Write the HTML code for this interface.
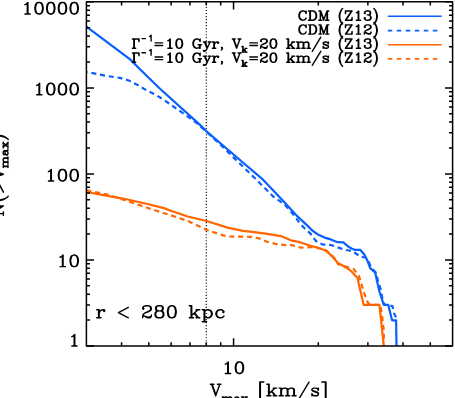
<!DOCTYPE html>
<html><head><meta charset="utf-8"><title>chart</title>
<style>html,body{margin:0;padding:0;background:#fff;font-family:"Liberation Sans",sans-serif}svg{display:block}</style>
</head><body><svg width="455" height="398" viewBox="0 0 455 398">
<rect width="455" height="398" fill="#fff"/>
<path d="M206.3 1.85V345.95" stroke="#111" stroke-width="1.2" stroke-dasharray="1.15 1.88" stroke-dashoffset="-2.02" fill="none"/>
<g fill="none" stroke-width="2.2" stroke-linejoin="round" stroke-linecap="butt">
<path d="M86.4 190.4 L106.5 194.4 L124.2 200 L146.4 207.5 L164 213.2 L170 215 L187.7 221 L206.5 229.8 L223.1 235.4 L229.7 236.5 L250 236.8 L258.4 238.2 L266.9 241.7 L275.3 243.8 L283.8 245 L292.2 245.2 L300.6 247.6 L311 247.2 L316 247.3 L325.6 250 L330.1 253.6 L334.4 258 L338.3 264.3 L341.8 265.3 L348 267.3 L353.5 269 L358.8 275.7 L361.2 283.5 L363.8 292.3 L368 302.9 L370 304.8 L379.4 304.8 L380.3 305.5 L382 315 L383.6 329 L383.9 341" stroke="#ff6600" stroke-dasharray="5.1 3.75"/>
<path d="M86.4 192 L102.1 194.9 L124.2 198.8 L146.4 203.7 L164 208.1 L172 211.2 L180 213.7 L187.7 216.5 L206.5 221 L227.5 227.6 L243 230.9 L250 231.6 L265.5 233.7 L280.9 236.1 L290.8 240.3 L300 242.2 L307.4 244.7 L316 247.2 L325.2 250.2 L329.5 253.9 L333.8 258.2 L338.2 263.2 L341.8 265 L348 268.7 L352 272 L357.7 278.2 L358.5 282.7 L361.4 295 L363.6 304.8 L379.4 304.8 L383.8 345.95" stroke="#ff6600"/>
<path d="M86.4 72 L106.5 75.9 L120 77.9 L128.8 80.5 L137.6 84.9 L146.4 90.2 L155.2 94.6 L164 99.9 L172.7 106 L181.5 112.2 L190.3 118.4 L197.4 123.6 L206.5 131.8 L220 144.3 L240 163.7 L255.5 178.8 L273.2 196.5 L284.2 204.2 L293 214 L299.7 223 L303.7 227.5 L310.5 233.6 L313.5 237.9 L316 241 L318.5 242.8 L323.4 244.7 L327 244.4 L332 245.3 L335.7 246.5 L340.6 248.4 L343.7 249.6 L349.2 250.5 L352.9 251.2 L356.6 254 L360.8 256.9 L365.5 257.5 L368.5 261.5 L371.2 267.5 L376 272.8 L378 281 L380.9 290.2 L382.2 297.6 L384.2 304.8 L388.2 304.8 L392.6 306.4 L394.4 314.3 L395.8 317 L396.4 321.5" stroke="#0a60ff" stroke-dasharray="5.1 3.75" stroke-dashoffset="3.85"/>
<path d="M86.4 26.6 L129.8 59.1 L140.2 69.5 L160 88.8 L200 124.9 L206.5 131.3 L240 160 L262.1 178.8 L284.2 202 L297.5 216.4 L307.4 225.6 L312.3 230.5 L318.5 234.8 L324.6 237.6 L330.8 239.4 L337.5 242.2 L343.4 242.3 L348.6 246.8 L352 248.8 L355.1 249.9 L360.2 249.8 L364.6 255 L367.7 261.3 L370.2 268.2 L375.2 272.6 L377.1 281.4 L379.4 291.5 L383.8 304.8 L388.2 304.8 L392.1 320.3 L396.1 320.3 L396.5 345.95" stroke="#0a60ff"/>
</g>
<g fill="none" stroke-width="1.6" stroke-linecap="butt">
<path d="M387.8 16.3H441.7" stroke="#0a60ff"/>
<path d="M387.8 30.6H441.7" stroke="#0a60ff" stroke-dasharray="4.5 4.5"/>
<path d="M387.8 44.7H441.7" stroke="#ff6600"/>
<path d="M387.8 58.9H441.7" stroke="#ff6600" stroke-dasharray="4.5 4.5"/>
</g>
<g fill="none" stroke="#000" stroke-width="1.5" stroke-linejoin="round" stroke-linecap="butt">
<path d="M121.57 345.95V342.35 M121.57 1.85V5.45 M148.84 345.95V342.35 M148.84 1.85V5.45 M171.13 345.95V342.35 M171.13 1.85V5.45 M189.97 345.95V342.35 M189.97 1.85V5.45 M206.3 345.95V342.35 M206.3 1.85V5.45 M220.69 345.95V342.35 M220.69 1.85V5.45 M233.57 345.95V338.35 M233.57 1.85V9.45 M318.31 345.95V342.35 M318.31 1.85V5.45 M367.87 345.95V342.35 M367.87 1.85V5.45 M403.04 345.95V342.35 M403.04 1.85V5.45 M430.31 345.95V342.35 M430.31 1.85V5.45 M86.4 345.95H94 M452.6 345.95H445 M86.4 320.05H90 M452.6 320.05H449 M86.4 304.91H90 M452.6 304.91H449 M86.4 294.16H90 M452.6 294.16H449 M86.4 285.82H90 M452.6 285.82H449 M86.4 279.01H90 M452.6 279.01H449 M86.4 273.25H90 M452.6 273.25H449 M86.4 268.26H90 M452.6 268.26H449 M86.4 263.86H90 M452.6 263.86H449 M86.4 259.93H94 M452.6 259.93H445 M86.4 234.03H90 M452.6 234.03H449 M86.4 218.88H90 M452.6 218.88H449 M86.4 208.13H90 M452.6 208.13H449 M86.4 199.8H90 M452.6 199.8H449 M86.4 192.98H90 M452.6 192.98H449 M86.4 187.23H90 M452.6 187.23H449 M86.4 182.24H90 M452.6 182.24H449 M86.4 177.84H90 M452.6 177.84H449 M86.4 173.9H94 M452.6 173.9H445 M86.4 148H90 M452.6 148H449 M86.4 132.86H90 M452.6 132.86H449 M86.4 122.11H90 M452.6 122.11H449 M86.4 113.77H90 M452.6 113.77H449 M86.4 106.96H90 M452.6 106.96H449 M86.4 101.2H90 M452.6 101.2H449 M86.4 96.21H90 M452.6 96.21H449 M86.4 91.81H90 M452.6 91.81H449 M86.4 87.88H94 M452.6 87.88H445 M86.4 61.98H90 M452.6 61.98H449 M86.4 46.83H90 M452.6 46.83H449 M86.4 36.08H90 M452.6 36.08H449 M86.4 27.75H90 M452.6 27.75H449 M86.4 20.93H90 M452.6 20.93H449 M86.4 15.18H90 M452.6 15.18H449 M86.4 10.19H90 M452.6 10.19H449 M86.4 5.79H90 M452.6 5.79H449 M86.4 1.85H94 M452.6 1.85H445"/>
<path d="M86.4 1.85H452.6V345.95H86.4Z"/>
</g>
<g fill="none" stroke="#000" stroke-linejoin="round" stroke-linecap="round">
<path d="M305.63 12.28 L306.1 13.6 L306.1 10.96 L305.63 12.28 L304.68 11.4 L303.26 10.96 L302.31 10.96 L300.89 11.4 L299.94 12.28 L299.46 13.16 L298.99 14.48 L298.99 16.68 L299.46 18 L299.94 18.88 L300.89 19.76 L302.31 20.2 L303.26 20.2 L304.68 19.76 L305.63 18.88 L306.1 18 M302.31 10.96 L301.36 11.4 L300.41 12.28 L299.94 13.16 L299.46 14.48 L299.46 16.68 L299.94 18 L300.41 18.88 L301.36 19.76 L302.31 20.2 M309.89 10.96 L309.89 20.2 M310.37 10.96 L310.37 20.2 M308.47 10.96 L313.21 10.96 L314.63 11.4 L315.58 12.28 L316.05 13.16 L316.53 14.48 L316.53 16.68 L316.05 18 L315.58 18.88 L314.63 19.76 L313.21 20.2 L308.47 20.2 M313.21 10.96 L314.16 11.4 L315.11 12.28 L315.58 13.16 L316.05 14.48 L316.05 16.68 L315.58 18 L315.11 18.88 L314.16 19.76 L313.21 20.2 M320.32 10.96 L320.32 20.2 M320.79 10.96 L323.64 18.88 M320.32 10.96 L323.64 20.2 M326.96 10.96 L323.64 20.2 M326.96 10.96 L326.96 20.2 M327.43 10.96 L327.43 20.2 M318.9 10.96 L320.79 10.96 M326.96 10.96 L328.85 10.96 M318.9 20.2 L321.74 20.2 M325.53 20.2 L328.85 20.2 M342.6 8.58 L341.65 9.55 L340.7 11 L339.75 12.94 L339.28 15.36 L339.28 17.3 L339.75 19.72 L340.7 21.65 L341.65 23.1 L342.6 24.07 M341.65 9.55 L340.7 11.49 L340.23 12.94 L339.75 15.36 L339.75 17.3 L340.23 19.72 L340.7 21.17 L341.65 23.1 M351.6 10.96 L345.44 20.2 M352.08 10.96 L345.92 20.2 M345.92 10.96 L345.44 13.6 L345.44 10.96 L352.08 10.96 M345.44 20.2 L352.08 20.2 L352.08 17.56 L351.6 20.2 M356.34 12.72 L357.29 12.28 L358.71 10.96 L358.71 20.2 M358.24 11.4 L358.24 20.2 M356.34 20.2 L360.61 20.2 M364.88 12.72 L365.35 13.16 L364.88 13.6 L364.4 13.16 L364.4 12.72 L364.88 11.84 L365.35 11.4 L366.77 10.96 L368.67 10.96 L370.09 11.4 L370.56 12.28 L370.56 13.6 L370.09 14.48 L368.67 14.92 L367.25 14.92 M368.67 10.96 L369.62 11.4 L370.09 12.28 L370.09 13.6 L369.62 14.48 L368.67 14.92 M368.67 14.92 L369.62 15.36 L370.56 16.24 L371.04 17.12 L371.04 18.44 L370.56 19.32 L370.09 19.76 L368.67 20.2 L366.77 20.2 L365.35 19.76 L364.88 19.32 L364.4 18.44 L364.4 18 L364.88 17.56 L365.35 18 L364.88 18.44 M370.09 15.8 L370.56 17.12 L370.56 18.44 L370.09 19.32 L369.62 19.76 L368.67 20.2 M373.88 8.58 L374.83 9.55 L375.78 11 L376.73 12.94 L377.2 15.36 L377.2 17.3 L376.73 19.72 L375.78 21.65 L374.83 23.1 L373.88 24.07 M374.83 9.55 L375.78 11.49 L376.25 12.94 L376.73 15.36 L376.73 17.3 L376.25 19.72 L375.78 21.17 L374.83 23.1 M305.63 26.18 L306.1 27.5 L306.1 24.86 L305.63 26.18 L304.68 25.3 L303.26 24.86 L302.31 24.86 L300.89 25.3 L299.94 26.18 L299.46 27.06 L298.99 28.38 L298.99 30.58 L299.46 31.9 L299.94 32.78 L300.89 33.66 L302.31 34.1 L303.26 34.1 L304.68 33.66 L305.63 32.78 L306.1 31.9 M302.31 24.86 L301.36 25.3 L300.41 26.18 L299.94 27.06 L299.46 28.38 L299.46 30.58 L299.94 31.9 L300.41 32.78 L301.36 33.66 L302.31 34.1 M309.89 24.86 L309.89 34.1 M310.37 24.86 L310.37 34.1 M308.47 24.86 L313.21 24.86 L314.63 25.3 L315.58 26.18 L316.05 27.06 L316.53 28.38 L316.53 30.58 L316.05 31.9 L315.58 32.78 L314.63 33.66 L313.21 34.1 L308.47 34.1 M313.21 24.86 L314.16 25.3 L315.11 26.18 L315.58 27.06 L316.05 28.38 L316.05 30.58 L315.58 31.9 L315.11 32.78 L314.16 33.66 L313.21 34.1 M320.32 24.86 L320.32 34.1 M320.79 24.86 L323.64 32.78 M320.32 24.86 L323.64 34.1 M326.96 24.86 L323.64 34.1 M326.96 24.86 L326.96 34.1 M327.43 24.86 L327.43 34.1 M318.9 24.86 L320.79 24.86 M326.96 24.86 L328.85 24.86 M318.9 34.1 L321.74 34.1 M325.53 34.1 L328.85 34.1 M342.6 22.48 L341.65 23.45 L340.7 24.9 L339.75 26.84 L339.28 29.26 L339.28 31.2 L339.75 33.62 L340.7 35.55 L341.65 37 L342.6 37.97 M341.65 23.45 L340.7 25.39 L340.23 26.84 L339.75 29.26 L339.75 31.2 L340.23 33.62 L340.7 35.07 L341.65 37 M351.6 24.86 L345.44 34.1 M352.08 24.86 L345.92 34.1 M345.92 24.86 L345.44 27.5 L345.44 24.86 L352.08 24.86 M345.44 34.1 L352.08 34.1 L352.08 31.46 L351.6 34.1 M356.34 26.62 L357.29 26.18 L358.71 24.86 L358.71 34.1 M358.24 25.3 L358.24 34.1 M356.34 34.1 L360.61 34.1 M364.88 26.62 L365.35 27.06 L364.88 27.5 L364.4 27.06 L364.4 26.62 L364.88 25.74 L365.35 25.3 L366.77 24.86 L368.67 24.86 L370.09 25.3 L370.56 25.74 L371.04 26.62 L371.04 27.5 L370.56 28.38 L369.14 29.26 L366.77 30.14 L365.82 30.58 L364.88 31.46 L364.4 32.78 L364.4 34.1 M368.67 24.86 L369.62 25.3 L370.09 25.74 L370.56 26.62 L370.56 27.5 L370.09 28.38 L368.67 29.26 L366.77 30.14 M364.4 33.22 L364.88 32.78 L365.82 32.78 L368.19 33.66 L369.62 33.66 L370.56 33.22 L371.04 32.78 M365.82 32.78 L368.19 34.1 L370.09 34.1 L370.56 33.66 L371.04 32.78 L371.04 31.9 M373.88 22.48 L374.83 23.45 L375.78 24.9 L376.73 26.84 L377.2 29.26 L377.2 31.2 L376.73 33.62 L375.78 35.55 L374.83 37 L373.88 37.97 M374.83 23.45 L375.78 25.39 L376.25 26.84 L376.73 29.26 L376.73 31.2 L376.25 33.62 L375.78 35.07 L374.83 37 M133.84 38.96 L133.84 48.2 M134.31 38.96 L134.31 48.2 M132.42 38.96 L139.05 38.96 L139.05 41.6 L138.58 38.96 M132.42 48.2 L135.73 48.2 M141.99 38.62 L145.52 38.62 M149.63 36.43 L150.22 36.16 L151.1 35.34 L151.1 41.07 M155.07 42.92 L162.66 42.92 M155.07 45.56 L162.66 45.56 M167.87 40.72 L168.82 40.28 L170.24 38.96 L170.24 48.2 M169.77 39.4 L169.77 48.2 M167.87 48.2 L172.14 48.2 M178.77 38.96 L177.35 39.4 L176.4 40.72 L175.93 42.92 L175.93 44.24 L176.4 46.44 L177.35 47.76 L178.77 48.2 L179.72 48.2 L181.14 47.76 L182.09 46.44 L182.57 44.24 L182.57 42.92 L182.09 40.72 L181.14 39.4 L179.72 38.96 L178.77 38.96 M178.77 38.96 L177.83 39.4 L177.35 39.84 L176.88 40.72 L176.4 42.92 L176.4 44.24 L176.88 46.44 L177.35 47.32 L177.83 47.76 L178.77 48.2 M179.72 48.2 L180.67 47.76 L181.14 47.32 L181.62 46.44 L182.09 44.24 L182.09 42.92 L181.62 40.72 L181.14 39.84 L180.67 39.4 L179.72 38.96 M199.63 40.28 L200.1 41.6 L200.1 38.96 L199.63 40.28 L198.68 39.4 L197.26 38.96 L196.31 38.96 L194.89 39.4 L193.94 40.28 L193.47 41.16 L192.99 42.48 L192.99 44.68 L193.47 46 L193.94 46.88 L194.89 47.76 L196.31 48.2 L197.26 48.2 L198.68 47.76 L199.63 46.88 M196.31 38.96 L195.36 39.4 L194.42 40.28 L193.94 41.16 L193.47 42.48 L193.47 44.68 L193.94 46 L194.42 46.88 L195.36 47.76 L196.31 48.2 M199.63 44.68 L199.63 48.2 M200.1 44.68 L200.1 48.2 M198.21 44.68 L201.53 44.68 M204.37 42.04 L207.21 48.2 M204.84 42.04 L207.21 47.32 M210.06 42.04 L207.21 48.2 L206.27 49.96 L205.32 50.84 L204.37 51.28 L203.9 51.28 L203.42 50.84 L203.9 50.4 L204.37 50.84 M203.42 42.04 L206.27 42.04 M208.16 42.04 L211.01 42.04 M213.85 42.04 L213.85 48.2 M214.32 42.04 L214.32 48.2 M214.32 44.68 L214.8 43.36 L215.75 42.48 L216.69 42.04 L218.12 42.04 L218.59 42.48 L218.59 42.92 L218.12 43.36 L217.64 42.92 L218.12 42.48 M212.43 42.04 L214.32 42.04 M212.43 48.2 L215.75 48.2 M221.91 48.2 L221.43 47.76 L221.91 47.32 L222.38 47.76 L222.38 48.64 L221.91 49.52 L221.43 49.96 M233.28 38.96 L236.6 48.2 M233.76 38.96 L236.6 46.88 M239.92 38.96 L236.6 48.2 M232.34 38.96 L235.18 38.96 M238.02 38.96 L240.87 38.96 M242.81 46.43 L242.81 52.16 M243.11 46.43 L243.11 52.16 M246.04 48.34 L243.11 51.07 M244.57 49.98 L246.34 52.16 M244.28 49.98 L246.04 52.16 M241.93 46.43 L243.11 46.43 M245.16 48.34 L246.93 48.34 M241.93 52.16 L243.99 52.16 M245.16 52.16 L246.93 52.16 M249.88 42.92 L257.47 42.92 M249.88 45.56 L257.47 45.56 M261.07 40.72 L261.54 41.16 L261.07 41.6 L260.6 41.16 L260.6 40.72 L261.07 39.84 L261.54 39.4 L262.97 38.96 L264.86 38.96 L266.28 39.4 L266.76 39.84 L267.23 40.72 L267.23 41.6 L266.76 42.48 L265.34 43.36 L262.97 44.24 L262.02 44.68 L261.07 45.56 L260.6 46.88 L260.6 48.2 M264.86 38.96 L265.81 39.4 L266.28 39.84 L266.76 40.72 L266.76 41.6 L266.28 42.48 L264.86 43.36 L262.97 44.24 M260.6 47.32 L261.07 46.88 L262.02 46.88 L264.39 47.76 L265.81 47.76 L266.76 47.32 L267.23 46.88 M262.02 46.88 L264.39 48.2 L266.28 48.2 L266.76 47.76 L267.23 46.88 L267.23 46 M272.92 38.96 L271.5 39.4 L270.55 40.72 L270.08 42.92 L270.08 44.24 L270.55 46.44 L271.5 47.76 L272.92 48.2 L273.87 48.2 L275.29 47.76 L276.24 46.44 L276.71 44.24 L276.71 42.92 L276.24 40.72 L275.29 39.4 L273.87 38.96 L272.92 38.96 M272.92 38.96 L271.97 39.4 L271.5 39.84 L271.02 40.72 L270.55 42.92 L270.55 44.24 L271.02 46.44 L271.5 47.32 L271.97 47.76 L272.92 48.2 M273.87 48.2 L274.82 47.76 L275.29 47.32 L275.76 46.44 L276.24 44.24 L276.24 42.92 L275.76 40.72 L275.29 39.84 L274.82 39.4 L273.87 38.96 M288.09 38.96 L288.09 48.2 M288.56 38.96 L288.56 48.2 M293.3 42.04 L288.56 46.44 M290.93 44.68 L293.78 48.2 M290.46 44.68 L293.3 48.2 M286.67 38.96 L288.56 38.96 M291.88 42.04 L294.72 42.04 M286.67 48.2 L289.98 48.2 M291.88 48.2 L294.72 48.2 M298.04 42.04 L298.04 48.2 M298.52 42.04 L298.52 48.2 M298.52 43.36 L299.46 42.48 L300.89 42.04 L301.83 42.04 L303.26 42.48 L303.73 43.36 L303.73 48.2 M301.83 42.04 L302.78 42.48 L303.26 43.36 L303.26 48.2 M303.73 43.36 L304.68 42.48 L306.1 42.04 L307.05 42.04 L308.47 42.48 L308.94 43.36 L308.94 48.2 M307.05 42.04 L308 42.48 L308.47 43.36 L308.47 48.2 M296.62 42.04 L298.52 42.04 M296.62 48.2 L299.94 48.2 M301.83 48.2 L305.15 48.2 M307.05 48.2 L310.37 48.2 M320.79 37.2 L312.26 51.28 M327.9 42.92 L328.38 42.04 L328.38 43.8 L327.9 42.92 L327.43 42.48 L326.48 42.04 L324.59 42.04 L323.64 42.48 L323.16 42.92 L323.16 43.8 L323.64 44.24 L324.59 44.68 L326.96 45.56 L327.9 46 L328.38 46.44 M323.16 43.36 L323.64 43.8 L324.59 44.24 L326.96 45.12 L327.9 45.56 L328.38 46 L328.38 47.32 L327.9 47.76 L326.96 48.2 L325.06 48.2 L324.11 47.76 L323.64 47.32 L323.16 46.44 L323.16 48.2 L323.64 47.32 M342.6 36.58 L341.65 37.55 L340.7 39 L339.75 40.94 L339.28 43.36 L339.28 45.3 L339.75 47.72 L340.7 49.65 L341.65 51.1 L342.6 52.07 M341.65 37.55 L340.7 39.49 L340.23 40.94 L339.75 43.36 L339.75 45.3 L340.23 47.72 L340.7 49.17 L341.65 51.1 M351.6 38.96 L345.44 48.2 M352.08 38.96 L345.92 48.2 M345.92 38.96 L345.44 41.6 L345.44 38.96 L352.08 38.96 M345.44 48.2 L352.08 48.2 L352.08 45.56 L351.6 48.2 M356.34 40.72 L357.29 40.28 L358.71 38.96 L358.71 48.2 M358.24 39.4 L358.24 48.2 M356.34 48.2 L360.61 48.2 M364.88 40.72 L365.35 41.16 L364.88 41.6 L364.4 41.16 L364.4 40.72 L364.88 39.84 L365.35 39.4 L366.77 38.96 L368.67 38.96 L370.09 39.4 L370.56 40.28 L370.56 41.6 L370.09 42.48 L368.67 42.92 L367.25 42.92 M368.67 38.96 L369.62 39.4 L370.09 40.28 L370.09 41.6 L369.62 42.48 L368.67 42.92 M368.67 42.92 L369.62 43.36 L370.56 44.24 L371.04 45.12 L371.04 46.44 L370.56 47.32 L370.09 47.76 L368.67 48.2 L366.77 48.2 L365.35 47.76 L364.88 47.32 L364.4 46.44 L364.4 46 L364.88 45.56 L365.35 46 L364.88 46.44 M370.09 43.8 L370.56 45.12 L370.56 46.44 L370.09 47.32 L369.62 47.76 L368.67 48.2 M373.88 36.58 L374.83 37.55 L375.78 39 L376.73 40.94 L377.2 43.36 L377.2 45.3 L376.73 47.72 L375.78 49.65 L374.83 51.1 L373.88 52.07 M374.83 37.55 L375.78 39.49 L376.25 40.94 L376.73 43.36 L376.73 45.3 L376.25 47.72 L375.78 49.17 L374.83 51.1 M133.84 53.06 L133.84 62.3 M134.31 53.06 L134.31 62.3 M132.42 53.06 L139.05 53.06 L139.05 55.7 L138.58 53.06 M132.42 62.3 L135.73 62.3 M141.99 52.72 L145.52 52.72 M149.63 50.53 L150.22 50.26 L151.1 49.44 L151.1 55.17 M155.07 57.02 L162.66 57.02 M155.07 59.66 L162.66 59.66 M167.87 54.82 L168.82 54.38 L170.24 53.06 L170.24 62.3 M169.77 53.5 L169.77 62.3 M167.87 62.3 L172.14 62.3 M178.77 53.06 L177.35 53.5 L176.4 54.82 L175.93 57.02 L175.93 58.34 L176.4 60.54 L177.35 61.86 L178.77 62.3 L179.72 62.3 L181.14 61.86 L182.09 60.54 L182.57 58.34 L182.57 57.02 L182.09 54.82 L181.14 53.5 L179.72 53.06 L178.77 53.06 M178.77 53.06 L177.83 53.5 L177.35 53.94 L176.88 54.82 L176.4 57.02 L176.4 58.34 L176.88 60.54 L177.35 61.42 L177.83 61.86 L178.77 62.3 M179.72 62.3 L180.67 61.86 L181.14 61.42 L181.62 60.54 L182.09 58.34 L182.09 57.02 L181.62 54.82 L181.14 53.94 L180.67 53.5 L179.72 53.06 M199.63 54.38 L200.1 55.7 L200.1 53.06 L199.63 54.38 L198.68 53.5 L197.26 53.06 L196.31 53.06 L194.89 53.5 L193.94 54.38 L193.47 55.26 L192.99 56.58 L192.99 58.78 L193.47 60.1 L193.94 60.98 L194.89 61.86 L196.31 62.3 L197.26 62.3 L198.68 61.86 L199.63 60.98 M196.31 53.06 L195.36 53.5 L194.42 54.38 L193.94 55.26 L193.47 56.58 L193.47 58.78 L193.94 60.1 L194.42 60.98 L195.36 61.86 L196.31 62.3 M199.63 58.78 L199.63 62.3 M200.1 58.78 L200.1 62.3 M198.21 58.78 L201.53 58.78 M204.37 56.14 L207.21 62.3 M204.84 56.14 L207.21 61.42 M210.06 56.14 L207.21 62.3 L206.27 64.06 L205.32 64.94 L204.37 65.38 L203.9 65.38 L203.42 64.94 L203.9 64.5 L204.37 64.94 M203.42 56.14 L206.27 56.14 M208.16 56.14 L211.01 56.14 M213.85 56.14 L213.85 62.3 M214.32 56.14 L214.32 62.3 M214.32 58.78 L214.8 57.46 L215.75 56.58 L216.69 56.14 L218.12 56.14 L218.59 56.58 L218.59 57.02 L218.12 57.46 L217.64 57.02 L218.12 56.58 M212.43 56.14 L214.32 56.14 M212.43 62.3 L215.75 62.3 M221.91 62.3 L221.43 61.86 L221.91 61.42 L222.38 61.86 L222.38 62.74 L221.91 63.62 L221.43 64.06 M233.28 53.06 L236.6 62.3 M233.76 53.06 L236.6 60.98 M239.92 53.06 L236.6 62.3 M232.34 53.06 L235.18 53.06 M238.02 53.06 L240.87 53.06 M242.81 60.53 L242.81 66.26 M243.11 60.53 L243.11 66.26 M246.04 62.44 L243.11 65.17 M244.57 64.08 L246.34 66.26 M244.28 64.08 L246.04 66.26 M241.93 60.53 L243.11 60.53 M245.16 62.44 L246.93 62.44 M241.93 66.26 L243.99 66.26 M245.16 66.26 L246.93 66.26 M249.88 57.02 L257.47 57.02 M249.88 59.66 L257.47 59.66 M261.07 54.82 L261.54 55.26 L261.07 55.7 L260.6 55.26 L260.6 54.82 L261.07 53.94 L261.54 53.5 L262.97 53.06 L264.86 53.06 L266.28 53.5 L266.76 53.94 L267.23 54.82 L267.23 55.7 L266.76 56.58 L265.34 57.46 L262.97 58.34 L262.02 58.78 L261.07 59.66 L260.6 60.98 L260.6 62.3 M264.86 53.06 L265.81 53.5 L266.28 53.94 L266.76 54.82 L266.76 55.7 L266.28 56.58 L264.86 57.46 L262.97 58.34 M260.6 61.42 L261.07 60.98 L262.02 60.98 L264.39 61.86 L265.81 61.86 L266.76 61.42 L267.23 60.98 M262.02 60.98 L264.39 62.3 L266.28 62.3 L266.76 61.86 L267.23 60.98 L267.23 60.1 M272.92 53.06 L271.5 53.5 L270.55 54.82 L270.08 57.02 L270.08 58.34 L270.55 60.54 L271.5 61.86 L272.92 62.3 L273.87 62.3 L275.29 61.86 L276.24 60.54 L276.71 58.34 L276.71 57.02 L276.24 54.82 L275.29 53.5 L273.87 53.06 L272.92 53.06 M272.92 53.06 L271.97 53.5 L271.5 53.94 L271.02 54.82 L270.55 57.02 L270.55 58.34 L271.02 60.54 L271.5 61.42 L271.97 61.86 L272.92 62.3 M273.87 62.3 L274.82 61.86 L275.29 61.42 L275.76 60.54 L276.24 58.34 L276.24 57.02 L275.76 54.82 L275.29 53.94 L274.82 53.5 L273.87 53.06 M288.09 53.06 L288.09 62.3 M288.56 53.06 L288.56 62.3 M293.3 56.14 L288.56 60.54 M290.93 58.78 L293.78 62.3 M290.46 58.78 L293.3 62.3 M286.67 53.06 L288.56 53.06 M291.88 56.14 L294.72 56.14 M286.67 62.3 L289.98 62.3 M291.88 62.3 L294.72 62.3 M298.04 56.14 L298.04 62.3 M298.52 56.14 L298.52 62.3 M298.52 57.46 L299.46 56.58 L300.89 56.14 L301.83 56.14 L303.26 56.58 L303.73 57.46 L303.73 62.3 M301.83 56.14 L302.78 56.58 L303.26 57.46 L303.26 62.3 M303.73 57.46 L304.68 56.58 L306.1 56.14 L307.05 56.14 L308.47 56.58 L308.94 57.46 L308.94 62.3 M307.05 56.14 L308 56.58 L308.47 57.46 L308.47 62.3 M296.62 56.14 L298.52 56.14 M296.62 62.3 L299.94 62.3 M301.83 62.3 L305.15 62.3 M307.05 62.3 L310.37 62.3 M320.79 51.3 L312.26 65.38 M327.9 57.02 L328.38 56.14 L328.38 57.9 L327.9 57.02 L327.43 56.58 L326.48 56.14 L324.59 56.14 L323.64 56.58 L323.16 57.02 L323.16 57.9 L323.64 58.34 L324.59 58.78 L326.96 59.66 L327.9 60.1 L328.38 60.54 M323.16 57.46 L323.64 57.9 L324.59 58.34 L326.96 59.22 L327.9 59.66 L328.38 60.1 L328.38 61.42 L327.9 61.86 L326.96 62.3 L325.06 62.3 L324.11 61.86 L323.64 61.42 L323.16 60.54 L323.16 62.3 L323.64 61.42 M342.6 50.68 L341.65 51.65 L340.7 53.1 L339.75 55.04 L339.28 57.46 L339.28 59.4 L339.75 61.82 L340.7 63.75 L341.65 65.2 L342.6 66.17 M341.65 51.65 L340.7 53.59 L340.23 55.04 L339.75 57.46 L339.75 59.4 L340.23 61.82 L340.7 63.27 L341.65 65.2 M351.6 53.06 L345.44 62.3 M352.08 53.06 L345.92 62.3 M345.92 53.06 L345.44 55.7 L345.44 53.06 L352.08 53.06 M345.44 62.3 L352.08 62.3 L352.08 59.66 L351.6 62.3 M356.34 54.82 L357.29 54.38 L358.71 53.06 L358.71 62.3 M358.24 53.5 L358.24 62.3 M356.34 62.3 L360.61 62.3 M364.88 54.82 L365.35 55.26 L364.88 55.7 L364.4 55.26 L364.4 54.82 L364.88 53.94 L365.35 53.5 L366.77 53.06 L368.67 53.06 L370.09 53.5 L370.56 53.94 L371.04 54.82 L371.04 55.7 L370.56 56.58 L369.14 57.46 L366.77 58.34 L365.82 58.78 L364.88 59.66 L364.4 60.98 L364.4 62.3 M368.67 53.06 L369.62 53.5 L370.09 53.94 L370.56 54.82 L370.56 55.7 L370.09 56.58 L368.67 57.46 L366.77 58.34 M364.4 61.42 L364.88 60.98 L365.82 60.98 L368.19 61.86 L369.62 61.86 L370.56 61.42 L371.04 60.98 M365.82 60.98 L368.19 62.3 L370.09 62.3 L370.56 61.86 L371.04 60.98 L371.04 60.1 M373.88 50.68 L374.83 51.65 L375.78 53.1 L376.73 55.04 L377.2 57.46 L377.2 59.4 L376.73 61.82 L375.78 63.75 L374.83 65.2 L373.88 66.17 M374.83 51.65 L375.78 53.59 L376.25 55.04 L376.73 57.46 L376.73 59.4 L376.25 61.82 L375.78 63.27 L374.83 65.2" stroke-width="1.4"/>
<path d="M24.97 4.65 L26.15 4.1 L27.9 2.45 L27.9 14 M27.32 3 L27.32 14 M24.97 14 L30.25 14 M38.45 2.45 L36.69 3 L35.52 4.65 L34.94 7.4 L34.94 9.05 L35.52 11.8 L36.69 13.45 L38.45 14 L39.62 14 L41.38 13.45 L42.55 11.8 L43.14 9.05 L43.14 7.4 L42.55 4.65 L41.38 3 L39.62 2.45 L38.45 2.45 M38.45 2.45 L37.28 3 L36.69 3.55 L36.11 4.65 L35.52 7.4 L35.52 9.05 L36.11 11.8 L36.69 12.9 L37.28 13.45 L38.45 14 M39.62 14 L40.8 13.45 L41.38 12.9 L41.97 11.8 L42.55 9.05 L42.55 7.4 L41.97 4.65 L41.38 3.55 L40.8 3 L39.62 2.45 M50.17 2.45 L48.41 3 L47.24 4.65 L46.66 7.4 L46.66 9.05 L47.24 11.8 L48.41 13.45 L50.17 14 L51.34 14 L53.1 13.45 L54.27 11.8 L54.86 9.05 L54.86 7.4 L54.27 4.65 L53.1 3 L51.34 2.45 L50.17 2.45 M50.17 2.45 L49 3 L48.41 3.55 L47.83 4.65 L47.24 7.4 L47.24 9.05 L47.83 11.8 L48.41 12.9 L49 13.45 L50.17 14 M51.34 14 L52.52 13.45 L53.1 12.9 L53.69 11.8 L54.27 9.05 L54.27 7.4 L53.69 4.65 L53.1 3.55 L52.52 3 L51.34 2.45 M61.89 2.45 L60.13 3 L58.96 4.65 L58.38 7.4 L58.38 9.05 L58.96 11.8 L60.13 13.45 L61.89 14 L63.06 14 L64.82 13.45 L65.99 11.8 L66.58 9.05 L66.58 7.4 L65.99 4.65 L64.82 3 L63.06 2.45 L61.89 2.45 M61.89 2.45 L60.72 3 L60.13 3.55 L59.55 4.65 L58.96 7.4 L58.96 9.05 L59.55 11.8 L60.13 12.9 L60.72 13.45 L61.89 14 M63.06 14 L64.24 13.45 L64.82 12.9 L65.41 11.8 L65.99 9.05 L65.99 7.4 L65.41 4.65 L64.82 3.55 L64.24 3 L63.06 2.45 M73.61 2.45 L71.85 3 L70.68 4.65 L70.1 7.4 L70.1 9.05 L70.68 11.8 L71.85 13.45 L73.61 14 L74.78 14 L76.54 13.45 L77.71 11.8 L78.3 9.05 L78.3 7.4 L77.71 4.65 L76.54 3 L74.78 2.45 L73.61 2.45 M73.61 2.45 L72.44 3 L71.85 3.55 L71.27 4.65 L70.68 7.4 L70.68 9.05 L71.27 11.8 L71.85 12.9 L72.44 13.45 L73.61 14 M74.78 14 L75.96 13.45 L76.54 12.9 L77.13 11.8 L77.71 9.05 L77.71 7.4 L77.13 4.65 L76.54 3.55 L75.96 3 L74.78 2.45 M36.69 85.45 L37.87 84.9 L39.62 83.25 L39.62 94.8 M39.04 83.8 L39.04 94.8 M36.69 94.8 L41.97 94.8 M50.17 83.25 L48.41 83.8 L47.24 85.45 L46.66 88.2 L46.66 89.85 L47.24 92.6 L48.41 94.25 L50.17 94.8 L51.34 94.8 L53.1 94.25 L54.27 92.6 L54.86 89.85 L54.86 88.2 L54.27 85.45 L53.1 83.8 L51.34 83.25 L50.17 83.25 M50.17 83.25 L49 83.8 L48.41 84.35 L47.83 85.45 L47.24 88.2 L47.24 89.85 L47.83 92.6 L48.41 93.7 L49 94.25 L50.17 94.8 M51.34 94.8 L52.52 94.25 L53.1 93.7 L53.69 92.6 L54.27 89.85 L54.27 88.2 L53.69 85.45 L53.1 84.35 L52.52 83.8 L51.34 83.25 M61.89 83.25 L60.13 83.8 L58.96 85.45 L58.38 88.2 L58.38 89.85 L58.96 92.6 L60.13 94.25 L61.89 94.8 L63.06 94.8 L64.82 94.25 L65.99 92.6 L66.58 89.85 L66.58 88.2 L65.99 85.45 L64.82 83.8 L63.06 83.25 L61.89 83.25 M61.89 83.25 L60.72 83.8 L60.13 84.35 L59.55 85.45 L58.96 88.2 L58.96 89.85 L59.55 92.6 L60.13 93.7 L60.72 94.25 L61.89 94.8 M63.06 94.8 L64.24 94.25 L64.82 93.7 L65.41 92.6 L65.99 89.85 L65.99 88.2 L65.41 85.45 L64.82 84.35 L64.24 83.8 L63.06 83.25 M73.61 83.25 L71.85 83.8 L70.68 85.45 L70.1 88.2 L70.1 89.85 L70.68 92.6 L71.85 94.25 L73.61 94.8 L74.78 94.8 L76.54 94.25 L77.71 92.6 L78.3 89.85 L78.3 88.2 L77.71 85.45 L76.54 83.8 L74.78 83.25 L73.61 83.25 M73.61 83.25 L72.44 83.8 L71.85 84.35 L71.27 85.45 L70.68 88.2 L70.68 89.85 L71.27 92.6 L71.85 93.7 L72.44 94.25 L73.61 94.8 M74.78 94.8 L75.96 94.25 L76.54 93.7 L77.13 92.6 L77.71 89.85 L77.71 88.2 L77.13 85.45 L76.54 84.35 L75.96 83.8 L74.78 83.25 M48.41 171.65 L49.59 171.1 L51.34 169.45 L51.34 181 M50.76 170 L50.76 181 M48.41 181 L53.69 181 M61.89 169.45 L60.13 170 L58.96 171.65 L58.38 174.4 L58.38 176.05 L58.96 178.8 L60.13 180.45 L61.89 181 L63.06 181 L64.82 180.45 L65.99 178.8 L66.58 176.05 L66.58 174.4 L65.99 171.65 L64.82 170 L63.06 169.45 L61.89 169.45 M61.89 169.45 L60.72 170 L60.13 170.55 L59.55 171.65 L58.96 174.4 L58.96 176.05 L59.55 178.8 L60.13 179.9 L60.72 180.45 L61.89 181 M63.06 181 L64.24 180.45 L64.82 179.9 L65.41 178.8 L65.99 176.05 L65.99 174.4 L65.41 171.65 L64.82 170.55 L64.24 170 L63.06 169.45 M73.61 169.45 L71.85 170 L70.68 171.65 L70.1 174.4 L70.1 176.05 L70.68 178.8 L71.85 180.45 L73.61 181 L74.78 181 L76.54 180.45 L77.71 178.8 L78.3 176.05 L78.3 174.4 L77.71 171.65 L76.54 170 L74.78 169.45 L73.61 169.45 M73.61 169.45 L72.44 170 L71.85 170.55 L71.27 171.65 L70.68 174.4 L70.68 176.05 L71.27 178.8 L71.85 179.9 L72.44 180.45 L73.61 181 M74.78 181 L75.96 180.45 L76.54 179.9 L77.13 178.8 L77.71 176.05 L77.71 174.4 L77.13 171.65 L76.54 170.55 L75.96 170 L74.78 169.45 M60.13 257.25 L61.31 256.7 L63.06 255.05 L63.06 266.6 M62.48 255.6 L62.48 266.6 M60.13 266.6 L65.41 266.6 M73.61 255.05 L71.85 255.6 L70.68 257.25 L70.1 260 L70.1 261.65 L70.68 264.4 L71.85 266.05 L73.61 266.6 L74.78 266.6 L76.54 266.05 L77.71 264.4 L78.3 261.65 L78.3 260 L77.71 257.25 L76.54 255.6 L74.78 255.05 L73.61 255.05 M73.61 255.05 L72.44 255.6 L71.85 256.15 L71.27 257.25 L70.68 260 L70.68 261.65 L71.27 264.4 L71.85 265.5 L72.44 266.05 L73.61 266.6 M74.78 266.6 L75.96 266.05 L76.54 265.5 L77.13 264.4 L77.71 261.65 L77.71 260 L77.13 257.25 L76.54 256.15 L75.96 255.6 L74.78 255.05 M71.83 336.65 L73 336.1 L74.76 334.45 L74.76 346 M74.17 335 L74.17 346 M71.83 346 L77.1 346 M225.37 364.15 L226.54 363.6 L228.3 361.95 L228.3 373.5 M227.71 362.5 L227.71 373.5 M225.37 373.5 L230.64 373.5 M238.85 361.95 L237.09 362.5 L235.92 364.15 L235.33 366.9 L235.33 368.55 L235.92 371.3 L237.09 372.95 L238.85 373.5 L240.02 373.5 L241.78 372.95 L242.95 371.3 L243.54 368.55 L243.54 366.9 L242.95 364.15 L241.78 362.5 L240.02 361.95 L238.85 361.95 M238.85 361.95 L237.68 362.5 L237.09 363.05 L236.5 364.15 L235.92 366.9 L235.92 368.55 L236.5 371.3 L237.09 372.4 L237.68 372.95 L238.85 373.5 M240.02 373.5 L241.19 372.95 L241.78 372.4 L242.36 371.3 L242.95 368.55 L242.95 366.9 L242.36 364.15 L241.78 363.05 L241.19 362.5 L240.02 361.95 M211.57 384.25 L215.67 395.8 M212.16 384.25 L215.67 394.15 M219.78 384.25 L215.67 395.8 M210.4 384.25 L213.92 384.25 M217.43 384.25 L220.95 384.25 M223.35 397.02 L223.35 401.8 M223.71 397.02 L223.71 401.8 M223.71 398.04 L224.44 397.36 L225.53 397.02 L226.26 397.02 L227.35 397.36 L227.71 398.04 L227.71 401.8 M226.26 397.02 L226.98 397.36 L227.35 398.04 L227.35 401.8 M227.71 398.04 L228.44 397.36 L229.53 397.02 L230.25 397.02 L231.34 397.36 L231.71 398.04 L231.71 401.8 M230.25 397.02 L230.98 397.36 L231.34 398.04 L231.34 401.8 M222.26 397.02 L223.71 397.02 M222.26 401.8 L224.8 401.8 M226.26 401.8 L228.8 401.8 M230.25 401.8 L232.8 401.8 M235.34 397.7 L235.34 398.04 L234.98 398.04 L234.98 397.7 L235.34 397.36 L236.07 397.02 L237.52 397.02 L238.25 397.36 L238.61 397.7 L238.97 398.38 L238.97 400.77 L239.34 401.45 L239.7 401.8 M238.61 397.7 L238.61 400.77 L238.97 401.45 L239.7 401.8 L240.06 401.8 M238.61 398.38 L238.25 398.73 L236.07 399.07 L234.98 399.41 L234.61 400.09 L234.61 400.77 L234.98 401.45 L236.07 401.8 L237.16 401.8 L237.88 401.45 L238.61 400.77 M236.07 399.07 L235.34 399.41 L234.98 400.09 L234.98 400.77 L235.34 401.45 L236.07 401.8 M242.24 397.02 L246.24 401.8 M242.61 397.02 L246.6 401.8 M246.6 397.02 L242.24 401.8 M241.52 397.02 L243.7 397.02 M245.15 397.02 L247.33 397.02 M241.52 401.8 L243.7 401.8 M245.15 401.8 L247.33 401.8 M259.78 382.05 L259.78 399.65 M260.36 382.05 L260.36 399.65 M259.78 382.05 L263.88 382.05 M259.78 399.65 L263.88 399.65 M268.57 384.25 L268.57 395.8 M269.15 384.25 L269.15 395.8 M275.01 388.1 L269.15 393.6 M272.08 391.4 L275.6 395.8 M271.5 391.4 L275.01 395.8 M266.81 384.25 L269.15 384.25 M273.25 388.1 L276.77 388.1 M266.81 395.8 L270.91 395.8 M273.25 395.8 L276.77 395.8 M280.87 388.1 L280.87 395.8 M281.46 388.1 L281.46 395.8 M281.46 389.75 L282.63 388.65 L284.39 388.1 L285.56 388.1 L287.32 388.65 L287.9 389.75 L287.9 395.8 M285.56 388.1 L286.73 388.65 L287.32 389.75 L287.32 395.8 M287.9 389.75 L289.08 388.65 L290.83 388.1 L292.01 388.1 L293.76 388.65 L294.35 389.75 L294.35 395.8 M292.01 388.1 L293.18 388.65 L293.76 389.75 L293.76 395.8 M279.11 388.1 L281.46 388.1 M279.11 395.8 L283.22 395.8 M285.56 395.8 L289.66 395.8 M292.01 395.8 L296.11 395.8 M309 382.05 L298.45 399.65 M317.79 389.2 L318.38 388.1 L318.38 390.3 L317.79 389.2 L317.2 388.65 L316.03 388.1 L313.69 388.1 L312.52 388.65 L311.93 389.2 L311.93 390.3 L312.52 390.85 L313.69 391.4 L316.62 392.5 L317.79 393.05 L318.38 393.6 M311.93 389.75 L312.52 390.3 L313.69 390.85 L316.62 391.95 L317.79 392.5 L318.38 393.05 L318.38 394.7 L317.79 395.25 L316.62 395.8 L314.27 395.8 L313.1 395.25 L312.52 394.7 L311.93 393.6 L311.93 395.8 L312.52 394.7 M325.41 382.05 L325.41 399.65 M325.99 382.05 L325.99 399.65 M321.89 382.05 L325.99 382.05 M321.89 399.65 L325.99 399.65 M-8.15 213.62 L3.4 213.62 M-8.15 213.02 L2.3 205.87 M-7.05 213.02 L3.4 205.87 M-8.15 205.87 L3.4 205.87 M-8.15 215.41 L-8.15 213.02 M-8.15 207.66 L-8.15 204.08 M3.4 215.41 L3.4 211.83 M-11.12 196.33 L-9.91 197.53 L-8.1 198.72 L-5.68 199.91 L-2.65 200.51 L-0.23 200.51 L2.8 199.91 L5.22 198.72 L7.03 197.53 L8.24 196.33 M-9.91 197.53 L-7.49 198.72 L-5.68 199.31 L-2.65 199.91 L-0.23 199.91 L2.8 199.31 L4.61 198.72 L7.03 197.53 M-6.5 192.16 L-1.55 182.63 L3.4 192.16 M-8.15 178.45 L3.4 174.28 M-8.15 177.86 L1.75 174.28 M-8.15 170.11 L3.4 174.28 M-8.15 179.65 L-8.15 176.07 M-8.15 172.49 L-8.15 168.92 M3.19 166.47 L7.96 166.47 M3.19 166.1 L7.96 166.1 M4.21 166.1 L3.53 165.37 L3.19 164.26 L3.19 163.52 L3.53 162.41 L4.21 162.04 L7.96 162.04 M3.19 163.52 L3.53 162.78 L4.21 162.41 L7.96 162.41 M4.21 162.04 L3.53 161.3 L3.19 160.19 L3.19 159.45 L3.53 158.34 L4.21 157.97 L7.96 157.97 M3.19 159.45 L3.53 158.71 L4.21 158.34 L7.96 158.34 M3.19 167.58 L3.19 166.1 M7.96 167.58 L7.96 165 M7.96 163.52 L7.96 160.93 M7.96 159.45 L7.96 156.87 M3.87 154.28 L4.21 154.28 L4.21 154.65 L3.87 154.65 L3.53 154.28 L3.19 153.54 L3.19 152.06 L3.53 151.32 L3.87 150.95 L4.56 150.58 L6.94 150.58 L7.62 150.22 L7.96 149.85 M3.87 150.95 L6.94 150.95 L7.62 150.58 L7.96 149.85 L7.96 149.48 M4.56 150.95 L4.9 151.32 L5.24 153.54 L5.58 154.65 L6.26 155.02 L6.94 155.02 L7.62 154.65 L7.96 153.54 L7.96 152.43 L7.62 151.69 L6.94 150.95 M5.24 153.54 L5.58 154.28 L6.26 154.65 L6.94 154.65 L7.62 154.28 L7.96 153.54 M3.19 147.26 L7.96 143.19 M3.19 146.89 L7.96 142.82 M3.19 142.82 L7.96 147.26 M3.19 148 L3.19 145.78 M3.19 144.3 L3.19 142.09 M7.96 148 L7.96 145.78 M7.96 144.3 L7.96 142.09 M-11.12 139.56 L-9.91 138.37 L-8.1 137.17 L-5.68 135.98 L-2.65 135.39 L-0.23 135.39 L2.8 135.98 L5.22 137.17 L7.03 138.37 L8.24 139.56 M-9.91 138.37 L-7.49 137.17 L-5.68 136.58 L-2.65 135.98 L-0.23 135.98 L2.8 136.58 L4.61 137.17 L7.03 138.37" stroke-width="1.4"/>
<path d="M98.56 309.75 L98.56 317.8 M99.18 309.75 L99.18 317.8 M99.18 313.2 L99.8 311.48 L101.05 310.32 L102.29 309.75 L104.15 309.75 L104.77 310.32 L104.77 310.9 L104.15 311.48 L103.53 310.9 L104.15 310.32 M96.7 309.75 L99.18 309.75 M96.7 317.8 L101.05 317.8 M128.37 307.45 L118.44 312.62 L128.37 317.8 M143.28 308.03 L143.9 308.6 L143.28 309.18 L142.65 308.6 L142.65 308.03 L143.28 306.88 L143.9 306.3 L145.76 305.73 L148.24 305.73 L150.11 306.3 L150.73 306.88 L151.35 308.03 L151.35 309.18 L150.73 310.32 L148.86 311.48 L145.76 312.62 L144.52 313.2 L143.28 314.35 L142.65 316.07 L142.65 317.8 M148.24 305.73 L149.49 306.3 L150.11 306.88 L150.73 308.03 L150.73 309.18 L150.11 310.32 L148.24 311.48 L145.76 312.62 M142.65 316.65 L143.28 316.07 L144.52 316.07 L147.62 317.23 L149.49 317.23 L150.73 316.65 L151.35 316.07 M144.52 316.07 L147.62 317.8 L150.11 317.8 L150.73 317.23 L151.35 316.07 L151.35 314.93 M158.18 305.73 L156.32 306.3 L155.69 307.45 L155.69 309.18 L156.32 310.32 L158.18 310.9 L160.66 310.9 L162.53 310.32 L163.15 309.18 L163.15 307.45 L162.53 306.3 L160.66 305.73 L158.18 305.73 M158.18 305.73 L156.94 306.3 L156.32 307.45 L156.32 309.18 L156.94 310.32 L158.18 310.9 M160.66 310.9 L161.91 310.32 L162.53 309.18 L162.53 307.45 L161.91 306.3 L160.66 305.73 M158.18 310.9 L156.32 311.48 L155.69 312.05 L155.07 313.2 L155.07 315.5 L155.69 316.65 L156.32 317.23 L158.18 317.8 L160.66 317.8 L162.53 317.23 L163.15 316.65 L163.77 315.5 L163.77 313.2 L163.15 312.05 L162.53 311.48 L160.66 310.9 M158.18 310.9 L156.94 311.48 L156.32 312.05 L155.69 313.2 L155.69 315.5 L156.32 316.65 L156.94 317.23 L158.18 317.8 M160.66 317.8 L161.91 317.23 L162.53 316.65 L163.15 315.5 L163.15 313.2 L162.53 312.05 L161.91 311.48 L160.66 310.9 M171.22 305.73 L169.36 306.3 L168.12 308.03 L167.49 310.9 L167.49 312.62 L168.12 315.5 L169.36 317.23 L171.22 317.8 L172.46 317.8 L174.32 317.23 L175.57 315.5 L176.19 312.62 L176.19 310.9 L175.57 308.03 L174.32 306.3 L172.46 305.73 L171.22 305.73 M171.22 305.73 L169.98 306.3 L169.36 306.88 L168.74 308.03 L168.12 310.9 L168.12 312.62 L168.74 315.5 L169.36 316.65 L169.98 317.23 L171.22 317.8 M172.46 317.8 L173.7 317.23 L174.32 316.65 L174.95 315.5 L175.57 312.62 L175.57 310.9 L174.95 308.03 L174.32 306.88 L173.7 306.3 L172.46 305.73 M191.09 305.73 L191.09 317.8 M191.71 305.73 L191.71 317.8 M197.92 309.75 L191.71 315.5 M194.82 313.2 L198.54 317.8 M194.2 313.2 L197.92 317.8 M189.23 305.73 L191.71 305.73 M196.06 309.75 L199.79 309.75 M189.23 317.8 L193.58 317.8 M196.06 317.8 L199.79 317.8 M204.13 309.75 L204.13 321.82 M204.75 309.75 L204.75 321.82 M204.75 311.48 L206 310.32 L207.24 309.75 L208.48 309.75 L210.34 310.32 L211.58 311.48 L212.21 313.2 L212.21 314.35 L211.58 316.07 L210.34 317.23 L208.48 317.8 L207.24 317.8 L206 317.23 L204.75 316.07 M208.48 309.75 L209.72 310.32 L210.96 311.48 L211.58 313.2 L211.58 314.35 L210.96 316.07 L209.72 317.23 L208.48 317.8 M202.27 309.75 L204.75 309.75 M202.27 321.82 L206.62 321.82 M223.38 311.48 L222.76 312.05 L223.38 312.62 L224 312.05 L224 311.48 L222.76 310.32 L221.52 309.75 L219.66 309.75 L217.8 310.32 L216.55 311.48 L215.93 313.2 L215.93 314.35 L216.55 316.07 L217.8 317.23 L219.66 317.8 L220.9 317.8 L222.76 317.23 L224 316.07 M219.66 309.75 L218.42 310.32 L217.17 311.48 L216.55 313.2 L216.55 314.35 L217.17 316.07 L218.42 317.23 L219.66 317.8" stroke-width="1.4"/>
</g>
</svg></body></html>
